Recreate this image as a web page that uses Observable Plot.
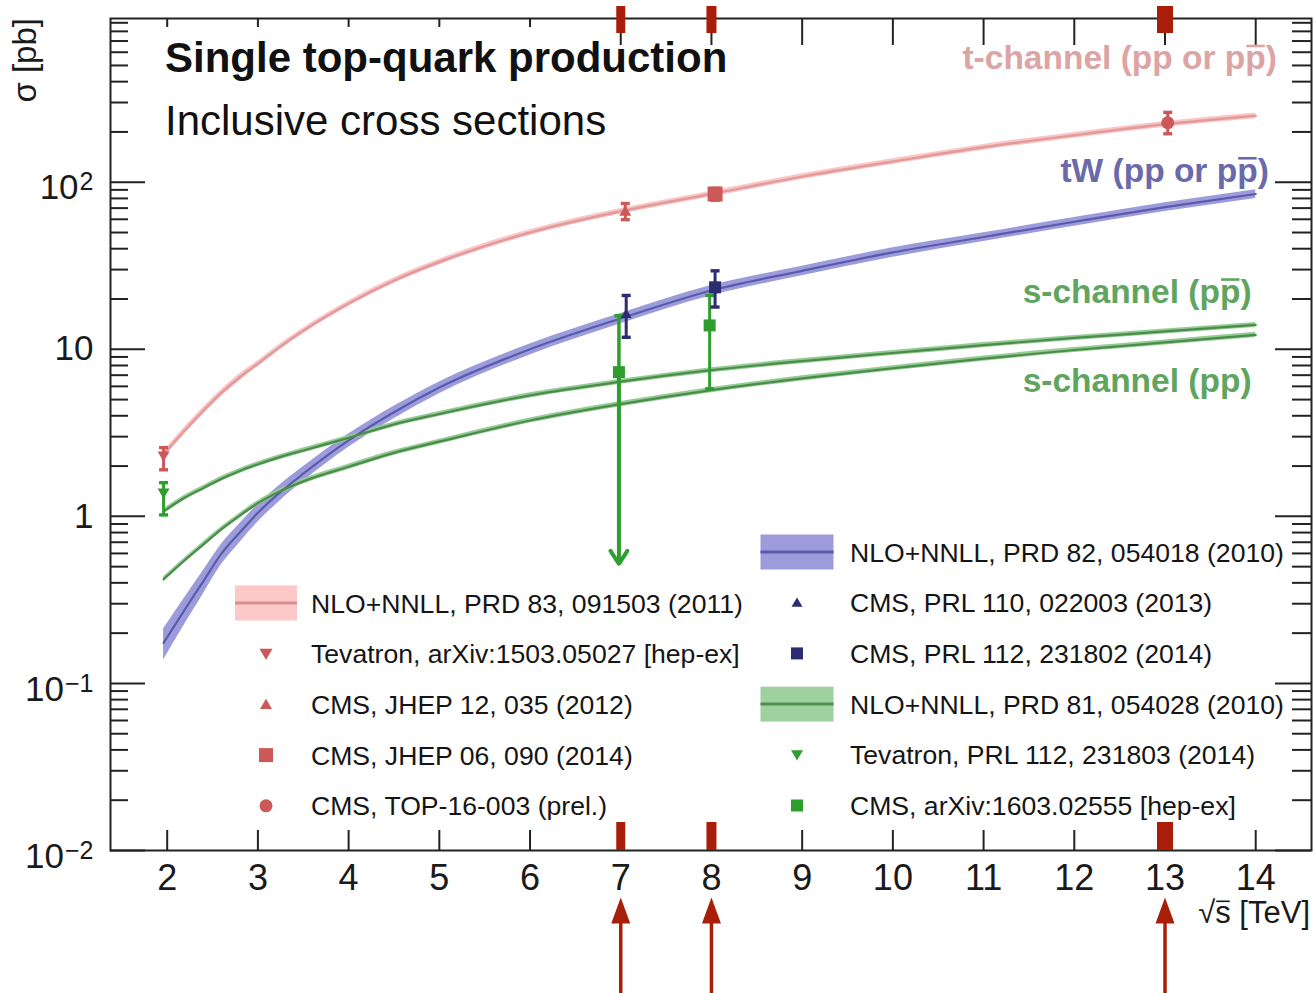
<!DOCTYPE html>
<html><head><meta charset="utf-8">
<script src="https://cdn.jsdelivr.net/npm/d3@7"></script>
<script src="https://cdn.jsdelivr.net/npm/@observablehq/plot@0.6"></script>
<style>
html,body{margin:0;padding:0;background:#fff;}
#chart{position:relative;width:1315px;height:993px;}
</style></head><body><div id="chart"></div>
<script>
// ---------------- data ----------------
const energies   = [1.96, 2.2, 2.4, 2.6, 2.8, 3, 3.25, 3.5, 4, 4.5, 5, 6, 7, 8, 9, 10, 11, 12, 13, 14];
const tChannel   = [2.35, 3.3, 4.3, 5.5, 6.8, 8.2, 10.4, 12.9, 18.8, 25.8, 33.3, 50, 67, 85, 108, 133, 162, 191, 222, 250];
const tChannelUnc= [0.05, 0.05, 0.05, 0.05, 0.05, 0.04, 0.04, 0.04, 0.04, 0.04, 0.04, 0.04, 0.04, 0.04, 0.04, 0.04, 0.04, 0.04, 0.04, 0.04];
const tWChannel  = [0.175, 0.28, 0.41, 0.6, 0.8, 1.05, 1.4, 1.8, 2.85, 4.2, 5.9, 10, 15.3, 22.5, 29.5, 38, 47, 58, 71, 85];
const tWUnc      = [0.21, 0.18, 0.16, 0.14, 0.13, 0.12, 0.11, 0.1, 0.09, 0.085, 0.08, 0.075, 0.07, 0.07, 0.065, 0.065, 0.06, 0.06, 0.06, 0.06];
const sChanPPbar = [1.07, 1.3, 1.48, 1.68, 1.87, 2.05, 2.27, 2.48, 2.95, 3.55, 4.1, 5.3, 6.4, 7.5, 8.5, 9.5, 10.6, 11.7, 12.8, 14.0];
const sChanPP    = [0.42, 0.55, 0.68, 0.84, 1.01, 1.2, 1.42, 1.62, 1.98, 2.4, 2.8, 3.75, 4.7, 5.7, 6.7, 7.7, 8.8, 9.9, 11.0, 12.2];
const sChanUnc   = 0.035;

// measurements: t-channel
const tMeasX   = [1.96, 7.05, 8.04, 13.03];
const tMeasY   = [2.3, 67, 85, 227];
const tMeasLo  = [1.9, 59.7, 78, 195];
const tMeasHi  = [2.58, 74.6, 92, 262];
const tMeasSym = ["down", "up", "square", "circle"];
const tMeasR   = [6, 6, 7.5, 6.5];
// measurements: tW
const tWMeasX   = [7.06, 8.04];
const tWMeasY   = [16.3, 23.5];
const tWMeasLo  = [11.8, 17.9];
const tWMeasHi  = [21, 29.5];
const tWMeasSym = ["up", "square"];
const tWMeasR   = [5.5, 6];
// measurements: s-channel
const sMeasX     = [1.96, 6.98, 7.98];
const sMeasY     = [1.38, 7.3, 13.9];
const sMeasLo    = [1.02, 0.52, 5.8];
const sMeasHi    = [1.59, 15.9, 21];
const sMeasSym   = ["down", "square", "square"];
const sMeasR     = [6, 6, 6];
const sMeasArrow = [false, true, false];

// axis ticks
const xTicks = [2, 3, 4, 5, 6, 7, 8, 9, 10, 11, 12, 13, 14];
const xTopShort = [2, 3, 4, 5, 6];
const xTopLong = [7, 8, 9, 10, 11, 12, 13, 14];
const yMajor = [0.01, 0.1, 1, 10, 100];
const yLabels = ["10^\u22122", "10^\u22121", "1", "10", "10^2"];

// annotations (red markers at LHC energies)
const annotEnergies = [7, 8, 13];
const annotWidths = [9, 10, 16];

// legend
const legendLeft = [
  {kind: "band", fill: "#fcc8c8", line: "#d98e8e", label: "NLO+NNLL, PRD 83, 091503 (2011)"},
  {kind: "down", color: "#cd5858", r: 6.5, label: "Tevatron, arXiv:1503.05027 [hep-ex]"},
  {kind: "up", color: "#cd5858", r: 6, label: "CMS, JHEP 12, 035 (2012)"},
  {kind: "square", color: "#cd5858", r: 7, label: "CMS, JHEP 06, 090 (2014)"},
  {kind: "circle", color: "#cd5858", r: 6.5, label: "CMS, TOP-16-003 (prel.)"}
];
const legendRight = [
  {kind: "band", fill: "#9c9cdc", line: "#5a5aaa", label: "NLO+NNLL, PRD 82, 054018 (2010)"},
  {kind: "up", color: "#2c2c70", r: 5.5, label: "CMS, PRL 110, 022003 (2013)"},
  {kind: "square", color: "#2c2c70", r: 6, label: "CMS, PRL 112, 231802 (2014)"},
  {kind: "band", fill: "#9fd09f", line: "#4f8f4f", label: "NLO+NNLL, PRD 81, 054028 (2010)"},
  {kind: "down", color: "#2e9e2e", r: 6, label: "Tevatron, PRL 112, 231803 (2014)"},
  {kind: "square", color: "#2e9e2e", r: 6, label: "CMS, arXiv:1603.02555 [hep-ex]"}
];

// curve labels (the character at curveLabelBar gets an overline: p-bar)
const curveLabelText = ["t-channel (pp or pp)", "tW (pp or pp)", "s-channel (pp)", "s-channel (pp)"];
const curveLabelBar = [18, 11, 12, -1];
const curveLabelX = [14.24, 14.15, 13.96, 13.96];
const curveLabelY = [470, 100, 18.8, 5.5];
const curveLabelColor = ["#dca4a4", "#6a6aaa", "#5fa55f", "#5fa55f"];

// ---------------- layout ----------------
const W = 1315, H = 993;
const mL = 110, mR = 4, mT = 18, mB = 143;
const frameW = W - mL - mR, frameH = H - mT - mB;
const FONT = "'Liberation Sans', Arial, Helvetica, sans-serif";
const RED = "#a91e08";

// symbols
const rOf = s => Math.sqrt(s / Math.PI);
const SYM = {
  down: {draw(c, s) { const r = rOf(s); c.moveTo(-r, -0.75 * r); c.lineTo(r, -0.75 * r); c.lineTo(0, 0.95 * r); c.closePath(); }},
  up: {draw(c, s) { const r = rOf(s); c.moveTo(-r, 0.75 * r); c.lineTo(r, 0.75 * r); c.lineTo(0, -0.95 * r); c.closePath(); }},
  square: {draw(c, s) { const r = rOf(s); c.rect(-r, -r, 2 * r, 2 * r); }},
  circle: {draw(c, s) { const r = rOf(s); c.moveTo(r, 0); c.arc(0, 0, r, 0, 2 * Math.PI); }},
  cap: {draw(c, s) { const r = rOf(s); c.rect(-r, -1.7, 2 * r, 3.4); }},
  head: {draw(c, s) { c.moveTo(0, -13); c.lineTo(9.5, 13); c.lineTo(-9.5, 13); c.closePath(); }}
};

function bandTable(vals, unc) {
  return energies.map((e, i) => {
    const u = Array.isArray(unc) ? unc[i] : unc;
    return {x: e, y: vals[i], lo: vals[i] * (1 - u), hi: vals[i] * (1 + u)};
  });
}
const tBand = bandTable(tChannel, tChannelUnc);
const tWBand = bandTable(tWChannel, tWUnc);
const sBandA = bandTable(sChanPPbar, sChanUnc);
const sBandB = bandTable(sChanPP, sChanUnc);

function measMarks(X, Y, Lo, Hi, Sym, R, color, arrow) {
  const idx = X.map((_, i) => i);
  const normal = idx.filter(i => !(arrow && arrow[i]));
  const arr = idx.filter(i => arrow && arrow[i]);
  const marks = [
    Plot.ruleX(normal, {x: i => X[i], y1: i => Lo[i], y2: i => Hi[i], stroke: color, strokeWidth: 3}),
    Plot.dot(normal, {x: i => X[i], y: i => Lo[i], symbol: SYM.cap, r: 4.5, fill: color, stroke: "none"}),
    Plot.dot(idx, {x: i => X[i], y: i => Hi[i], symbol: SYM.cap, r: 4.5, fill: color, stroke: "none"}),
    Plot.ruleX(arr, {x: i => X[i], y1: i => Y[i], y2: i => Hi[i], stroke: color, strokeWidth: 3.5}),
    Plot.arrow(arr, {x1: i => X[i], y1: i => Y[i], x2: i => X[i], y2: i => Lo[i], stroke: color, strokeWidth: 4, headLength: 5.8, headAngle: 66})
  ];
  idx.forEach(i => {
    marks.push(Plot.dot([i], {x: i => X[i], y: i => Y[i], symbol: SYM[Sym[i]], r: R[i], fill: color, stroke: "none"}));
  });
  return marks;
}

const yMinor = [];
[0.01, 0.1, 1, 10, 100].forEach(d => { for (let k = 2; k <= 9; k++) { const v = d * k; if (v < 955) yMinor.push(v); } });

const plot = Plot.plot({
  width: W, height: H,
  marginLeft: mL, marginRight: mR, marginTop: mT, marginBottom: mB,
  style: {fontFamily: FONT, background: "white", color: "#1a1a1a", overflow: "visible"},
  x: {domain: [1.375, 14.615]},
  y: {type: "log", domain: [0.01, 955]},
  marks: [
    // theory bands and lines
    Plot.areaY(tBand, {x: "x", y1: "lo", y2: "hi", fill: "#fbc6c6", curve: "monotone-x"}),
    Plot.areaY(tWBand, {x: "x", y1: "lo", y2: "hi", fill: "#9c9cdc", curve: "monotone-x"}),
    Plot.areaY(sBandA, {x: "x", y1: "lo", y2: "hi", fill: "#95cc95", curve: "monotone-x"}),
    Plot.areaY(sBandB, {x: "x", y1: "lo", y2: "hi", fill: "#95cc95", curve: "monotone-x"}),
    Plot.line(tBand, {x: "x", y: "y", stroke: "#e29a9a", strokeWidth: 2.5, curve: "monotone-x"}),
    Plot.line(tWBand, {x: "x", y: "y", stroke: "#5a5aaa", strokeWidth: 2.2, curve: "monotone-x"}),
    Plot.line(sBandA, {x: "x", y: "y", stroke: "#4a8c4a", strokeWidth: 2.2, curve: "monotone-x"}),
    Plot.line(sBandB, {x: "x", y: "y", stroke: "#4a8c4a", strokeWidth: 2.2, curve: "monotone-x"}),
    // measurements
    ...measMarks(sMeasX, sMeasY, sMeasLo, sMeasHi, sMeasSym, sMeasR, "#2f9e2f", sMeasArrow),
    ...measMarks(tMeasX, tMeasY, tMeasLo, tMeasHi, tMeasSym, tMeasR, "#cd5858"),
    ...measMarks(tWMeasX, tWMeasY, tWMeasLo, tWMeasHi, tWMeasSym, tWMeasR, "#2c2c70"),
    // axis ticks (ROOT style, inside the frame, mirrored)
    Plot.ruleY(yMajor, {y: d => d, insetRight: frameW - 35, stroke: "#222", strokeWidth: 2}),
    Plot.ruleY(yMinor, {y: d => d, insetRight: frameW - 18, stroke: "#222", strokeWidth: 2}),
    Plot.ruleY(yMajor, {y: d => d, insetLeft: frameW - 36, stroke: "#222", strokeWidth: 2}),
    Plot.ruleY(yMinor, {y: d => d, insetLeft: frameW - 19, stroke: "#222", strokeWidth: 2}),
    Plot.ruleX(xTicks, {x: d => d, insetTop: frameH - 20, stroke: "#222", strokeWidth: 2}),
    Plot.ruleX(xTopShort, {x: d => d, insetBottom: frameH - 9, stroke: "#222", strokeWidth: 2}),
    Plot.ruleX(xTopLong, {x: d => d, insetBottom: frameH - 27, stroke: "#222", strokeWidth: 2}),
    Plot.frame({stroke: "#222", strokeWidth: 2}),
    Plot.axisX({ticks: xTicks, tickSize: 0, tickPadding: 14, tickFormat: d => String(d), fontSize: 36, label: null, anchor: "bottom"}),
    Plot.axisY({ticks: yMajor, tickSize: 0, tickPadding: 17, tickFormat: d => yLabels[yMajor.indexOf(d)], fontSize: 35, label: null, anchor: "left"}),
    // red annotation markers at LHC energies
    Plot.ruleX(annotEnergies, {x: d => d, stroke: RED, strokeWidth: (d, i) => annotWidths[i], insetTop: -12, insetBottom: frameH - 15}),
    Plot.ruleX(annotEnergies, {x: d => d, stroke: RED, strokeWidth: (d, i) => annotWidths[i], insetTop: frameH - 28, insetBottom: 0}),
    Plot.ruleX(annotEnergies, {x: d => d, stroke: RED, strokeWidth: 3.5, insetTop: frameH + 70, insetBottom: -(H - mT - frameH)}),
    Plot.dot(annotEnergies, {x: d => d, frameAnchor: "bottom", dy: 60, symbol: SYM.head, r: 10, fill: RED, stroke: "none"})
  ]
});

document.getElementById("chart").appendChild(plot);
const svg = d3.select(plot);

// superscripts on y tick labels
svg.selectAll('g[aria-label="y-axis tick label"] text').each(function () {
  const t = this.textContent;
  if (t.includes("^")) {
    const [base, sup] = t.split("^");
    const el = d3.select(this);
    el.text(base);
    el.append("tspan").attr("font-size", 25).attr("dy", -9).attr("dx", 1).text(sup);
    const tr = this.getAttribute("transform") || "";
    this.setAttribute("transform", tr + " translate(0,6)");
  }
});

const xs = plot.scale("x"), ys = plot.scale("y");

function overline(textSel, charIndex, fontSize, color, width) {
  const node = textSel.node();
  const ext = node.getExtentOfChar(charIndex);
  const base = +textSel.attr("y");
  svg.append("line").attr("x1", ext.x + 1).attr("x2", ext.x + ext.width - 1)
    .attr("y1", base - 0.7 * fontSize).attr("y2", base - 0.7 * fontSize)
    .attr("stroke", color).attr("stroke-width", width);
}

// title texts
svg.append("text").attr("x", 165).attr("y", 72).attr("text-anchor", "start").attr("font-family", FONT).attr("font-size", 42)
  .attr("font-weight", "bold").attr("fill", "#111").text("Single top-quark production");
svg.append("text").attr("x", 165).attr("y", 135).attr("text-anchor", "start").attr("font-family", FONT).attr("font-size", 42)
  .attr("fill", "#111").text("Inclusive cross sections");

// axis titles
svg.append("text").attr("transform", "translate(36,18) rotate(-90)").attr("text-anchor", "end")
  .attr("font-family", FONT).attr("font-size", 33).attr("fill", "#1a1a1a").text("\u03c3 [pb]");
const xl = svg.append("text").attr("x", 1310).attr("y", 923).attr("text-anchor", "end")
  .attr("font-family", FONT).attr("font-size", 31).attr("fill", "#1a1a1a").text("\u221as [TeV]");
overline(xl, 1, 31, "#1a1a1a", 1.6);

// curve labels
curveLabelText.forEach((txt, i) => {
  const el = svg.append("text").attr("x", xs.apply(curveLabelX[i])).attr("y", ys.apply(curveLabelY[i]))
    .attr("text-anchor", "end").attr("font-family", FONT).attr("font-size", 33.5).attr("font-weight", "bold")
    .attr("fill", curveLabelColor[i]).text(txt);
  if (curveLabelBar[i] >= 0) overline(el, curveLabelBar[i], 33.5, curveLabelColor[i], 2.6);
});

// legend
function drawLegendEntry(e, sx, tx, cy, bandW) {
  if (e.kind === "band") {
    svg.append("rect").attr("x", sx - bandW / 2).attr("y", cy - 17.5).attr("width", bandW).attr("height", 35).attr("fill", e.fill);
    svg.append("line").attr("x1", sx - bandW / 2).attr("x2", sx + bandW / 2).attr("y1", cy).attr("y2", cy)
      .attr("stroke", e.line).attr("stroke-width", 3);
  } else {
    svg.append("path").attr("transform", `translate(${sx},${cy})`)
      .attr("d", d3.symbol(SYM[e.kind], Math.PI * e.r * e.r)()).attr("fill", e.color);
  }
  svg.append("text").attr("x", tx).attr("y", cy).attr("dy", "0.36em").attr("text-anchor", "start").attr("font-family", FONT)
    .attr("font-size", 26.6).attr("fill", "#151515").text(e.label);
}
legendLeft.forEach((e, i) => drawLegendEntry(e, 266, 311, 603 + i * 50.7, 62));
legendRight.forEach((e, i) => drawLegendEntry(e, 797, 850, 552 + i * 50.7, 73));
</script></body></html>
